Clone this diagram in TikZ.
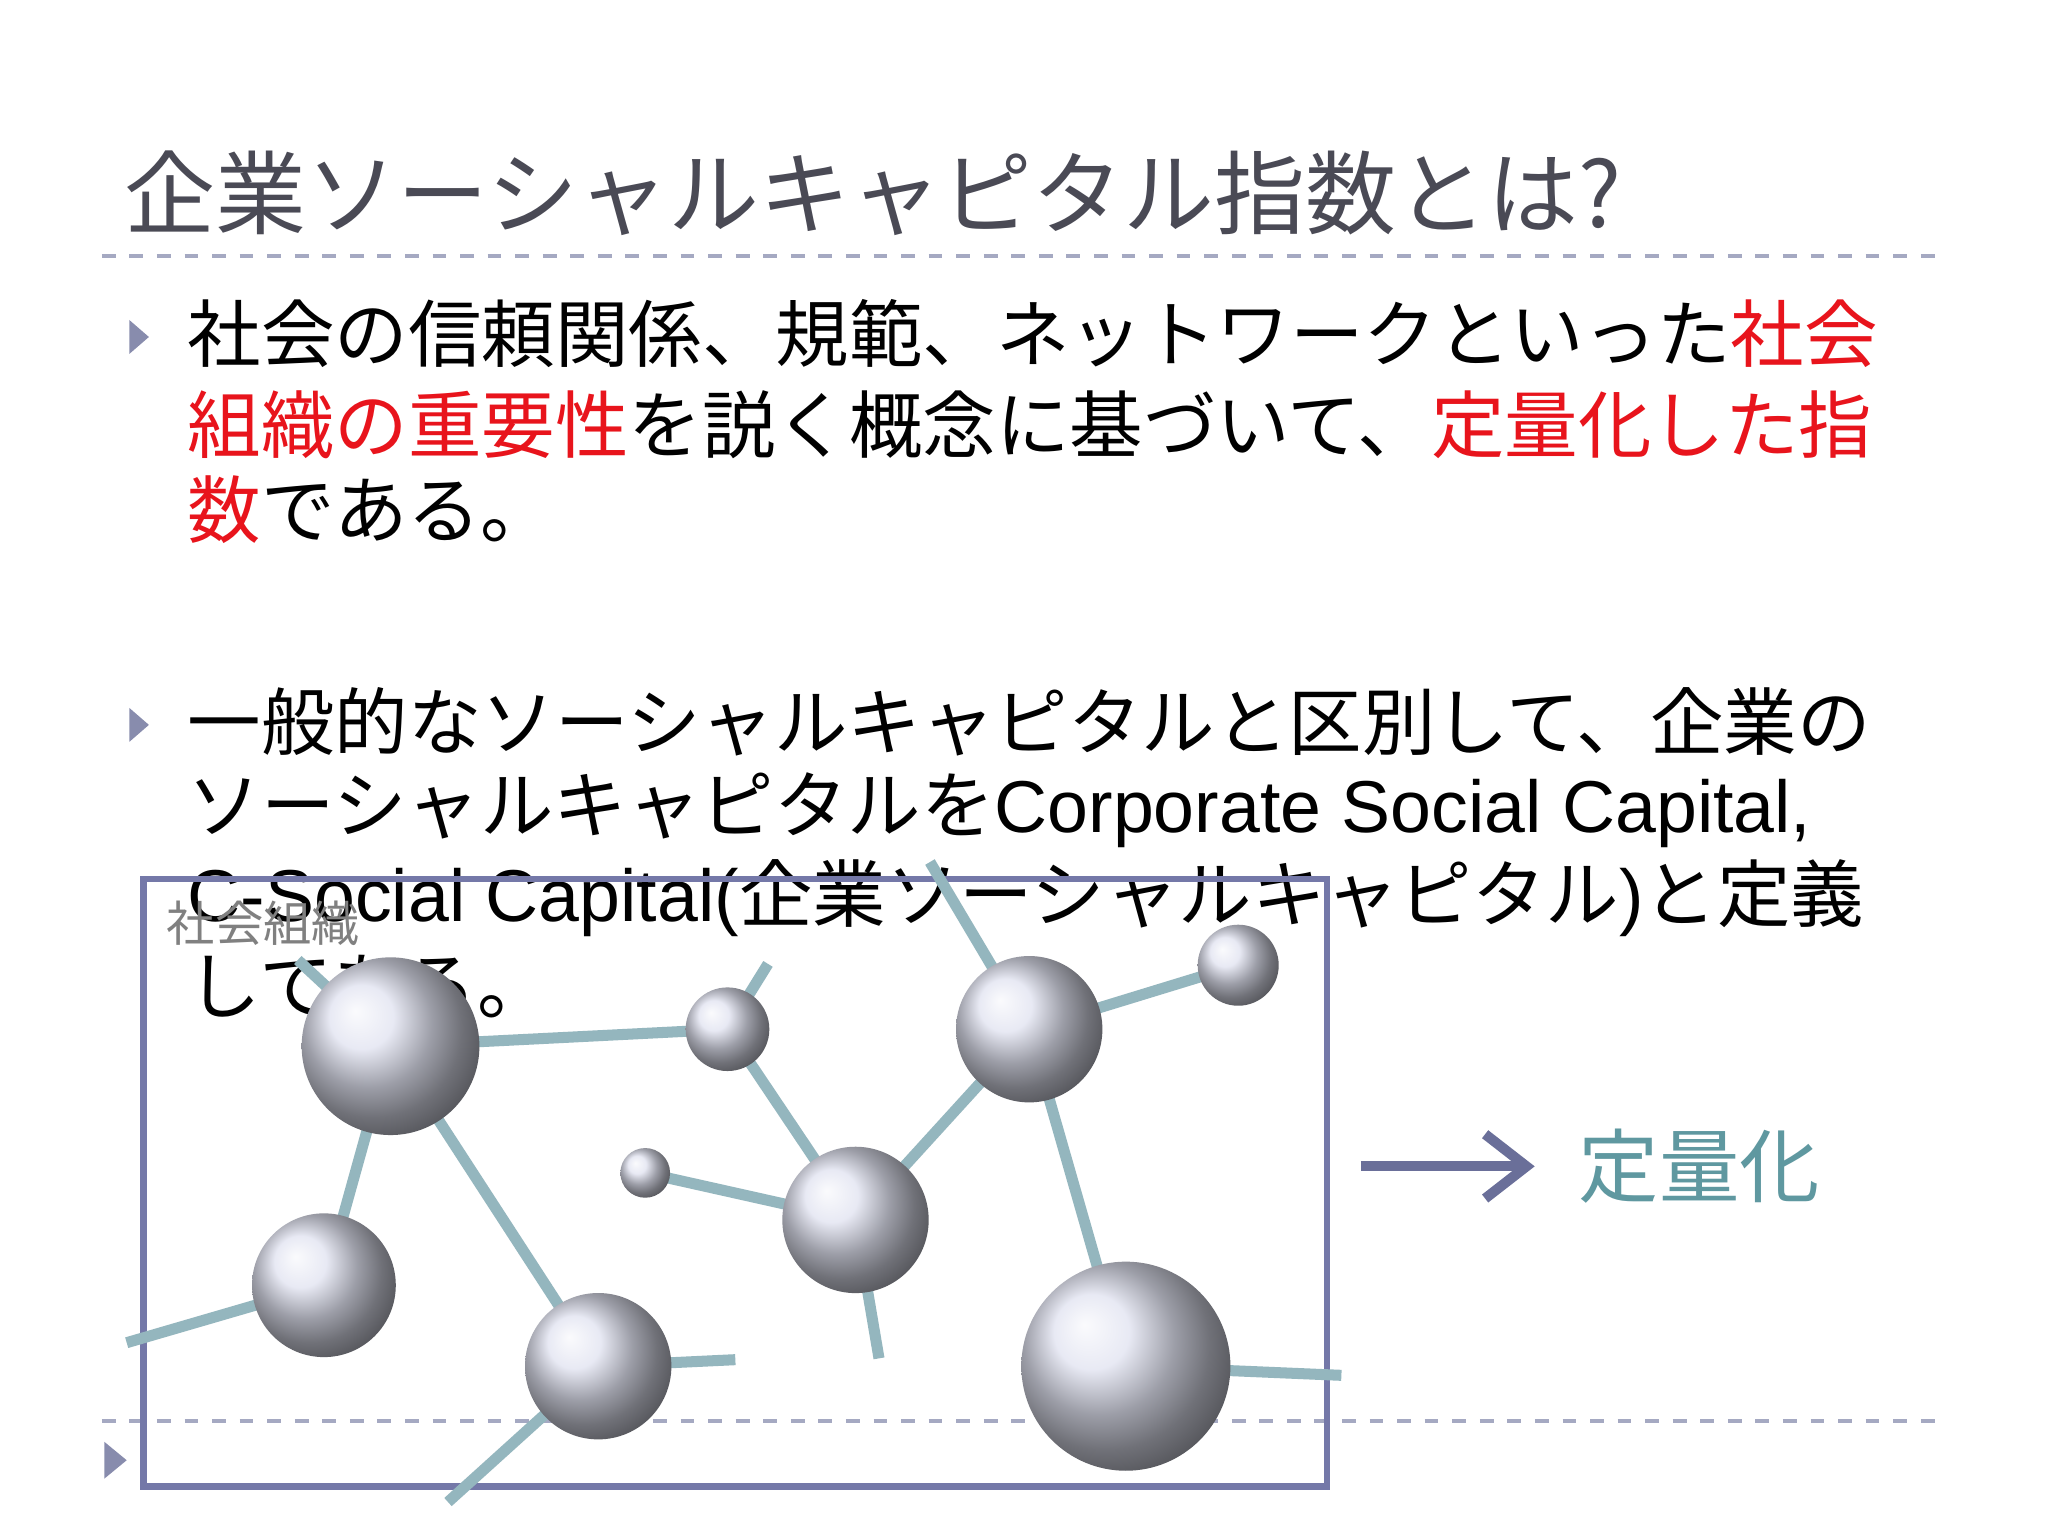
\documentclass[tikz,border=0pt]{standalone}
\usepackage{fontspec}
\setmainfont{Noto Sans CJK JP}
\newfontfamily\lat{Liberation Sans}
\usetikzlibrary{arrows.meta}
\definecolor{ttl}{HTML}{4A4A55}
\definecolor{red1}{HTML}{E8141C}
\definecolor{bx}{HTML}{7478A8}
\definecolor{lnk}{HTML}{94B6BE}
\definecolor{tl}{HTML}{5F98A0}
\definecolor{ar}{HTML}{6A6F99}
\tikzset{
 ln/.style={anchor=west,inner sep=0,font=\fontsize{16}{16}\selectfont},
 bul/.style={fill=ar!80,draw=none},
 sph/.style={circle,shading=ball,ball color=sphc,inner sep=0},
 lk/.style={lnk,line width=2.4pt},
 dl/.style={ar!60,dashed,line width=0.8pt}
}
\definecolor{sphc}{HTML}{E0E2F0}
\begin{document}
\begin{tikzpicture}[x=0.01cm,y=-0.01cm]
\useasboundingbox[fill=white] (0,0) rectangle (1568,1176);
\node[anchor=west,inner sep=0,text=ttl,font=\fontsize{19.8}{19.8}\selectfont] (title) at (95,148) {企業ソーシャルキャピタル指数とは?};
\draw[dl] (78,196) -- (1490,196);
\draw[dl] (78,1088) -- (1490,1088);
\fill[bul] (99,245) -- (114,258) -- (99,271) -- cycle;
\fill[bul] (99,542) -- (114,555) -- (99,568) -- cycle;
\fill[bul] (80,1104) -- (97,1118) -- (80,1132) -- cycle;
\node[ln] (l1) at (143,255) {社会の信頼関係、規範、ネットワークといった\textcolor{red1}{社会}};
\node[ln] (l2) at (143,325) {\textcolor{red1}{組織の重要性}を説く概念に基づいて、\textcolor{red1}{定量化した指}};
\node[ln] (l3) at (143,390) {\textcolor{red1}{数}である。};
\node[ln] (m1) at (143,553) {一般的なソーシャルキャピタルと区別して、企業の};
\node[ln] (m2) at (143,620) {ソーシャルキャピタルを{\lat Corporate Social Capital,}};
\node[ln] (m3) at (143,688) {{\lat C-Social Capital(}企業ソーシャルキャピタル{\lat )}と定義};
\node[ln] (m4) at (143,755) {してある。};
\draw[bx,line width=1.5pt] (110,673) rectangle (1016,1138);
\node[anchor=west,inner sep=0,text=gray,font=\fontsize{10.5}{10.5}\selectfont] (lab) at (127,707) {社会組織};
% free ends
\coordinate (eA) at (228,735);
\coordinate (eB) at (588,738);
\coordinate (eC) at (712,660);
\coordinate (eG) at (97,1028);
\coordinate (eH1) at (563,1041);
\coordinate (eH2) at (343,1150);
\coordinate (eF) at (673,1040);
\coordinate (eI) at (1027,1053);
\coordinate (A) at (299,801);
\coordinate (B) at (557,788);
\coordinate (C) at (788,788);
\coordinate (D) at (948,739);
\coordinate (E) at (494,898);
\coordinate (F) at (655,934);
\coordinate (G) at (248,984);
\coordinate (H) at (458,1046);
\coordinate (I) at (862,1046);
\foreach \a/\b in {A/B,A/G,A/H,B/F,F/C,C/D,E/F,C/I,A/eA,B/eB,C/eC,G/eG,H/eH1,H/eH2,F/eF,I/eI}
  \draw[lk] (\a) -- (\b);
\node[sph,minimum size=1.36cm] (sA) at (A) {};
\node[sph,minimum size=0.64cm] (sB) at (B) {};
\node[sph,minimum size=1.12cm] (sC) at (C) {};
\node[sph,minimum size=0.62cm] (sD) at (D) {};
\node[sph,minimum size=0.38cm] (sE) at (E) {};
\node[sph,minimum size=1.12cm] (sF) at (F) {};
\node[sph,minimum size=1.1cm] (sG) at (G) {};
\node[sph,minimum size=1.12cm] (sH) at (H) {};
\node[sph,minimum size=1.6cm] (sI) at (I) {};
\node[anchor=west,inner sep=0,text=tl,font=\fontsize{17.5}{17.5}\selectfont] (q) at (1208,893) {定量化};
\coordinate (a1) at (1042,893);
\coordinate (a2) at (1175,893);
\draw[ar,line width=2.2pt,-{Straight Barb[length=9pt,width=14pt]}] (a1) -- (a2);
\end{tikzpicture}
\end{document}
